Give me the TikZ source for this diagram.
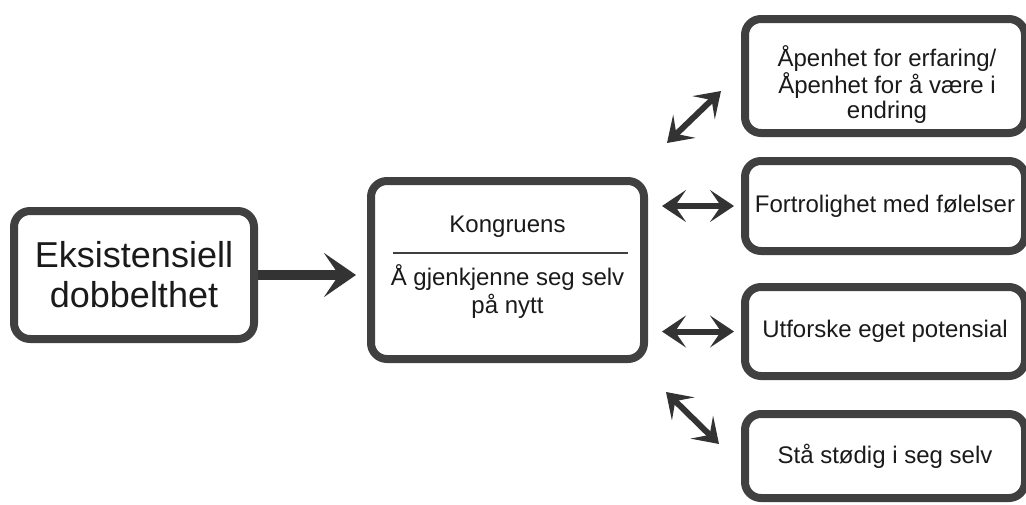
\documentclass[tikz,border=0pt]{standalone}
\usepackage{fontspec}
\setmainfont{Liberation Sans}
\definecolor{dbEdge}{HTML}{404040}
\definecolor{dbArrow}{HTML}{333333}
\definecolor{dbText}{HTML}{1A1A1A}
\usetikzlibrary{calc,arrows.meta}

\tikzset{
  card/.style={draw=dbEdge, line width=8pt, rounded corners=16pt, inner sep=0pt,
    fill=white, align=center, text=dbText},
  cardtext/.style={font=\fontsize{24}{25}\selectfont, text=dbText},
  link/.style={dbArrow, line width=6pt,
    {Stealth[length=24pt,width=32pt,inset=11pt]}-{Stealth[length=24pt,width=32pt,inset=11pt]}},
}

\begin{document}
\begin{tikzpicture}[x=1pt,y=-1pt]
  \useasboundingbox (0,0) rectangle (1026,504);
  \clip (0,0) rectangle (1026,504);
  % left box
  \node[card, minimum width=240pt, minimum height=128pt,
    font=\fontsize{36}{40}\selectfont] (eks) at (134,275) {Eksistensiell\\dobbelthet};
  % centre box
  \node[card, minimum width=273pt, minimum height=178pt] (kong) at (507.5,270) {};
  \node[cardtext, anchor=base] (kongtop) at (507.5,232) {Kongruens};
  \draw[dbEdge, line width=1.2pt] (393,253) -- (628,253);
  \node[cardtext, anchor=base, align=center, font=\fontsize{24}{28}\selectfont]
    (konglow) at (507.5,313) {Å gjenkjenne seg selv\\på nytt};
  % right boxes
  \node[card, minimum width=280pt, minimum height=114pt] (open) at (885,76) {};
  \node[cardtext, anchor=base, align=center] (opentext) at (887,118)
    {Åpenhet for erfaring/\\Åpenhet for å være i\\endring};
  \node[card, cardtext, minimum width=280pt, minimum height=90pt] (fort) at (885,206)
    {Fortrolighet med følelser};
  \node[card, cardtext, minimum width=280pt, minimum height=89pt] (utf) at (885,331.5)
    {Utforske eget potensial};
  \node[card, cardtext, minimum width=280pt, minimum height=84pt] (sta) at (885,456)
    {Stå stødig i seg selv};
  % arrows
  \draw[dbArrow, line width=10pt, -{Stealth[length=32pt,width=44pt,inset=15pt]},
    shorten >=11pt] (eks.east) -- (eks.east -| kong.west);
  \draw[link] ($(kong.north east)+(19,-34)$) -- ($(open.south west)+(-20,-46)$);
  \draw[link, shorten <=14pt, shorten >=7pt] (kong.east |- fort.west) -- (fort.west);
  \draw[link, shorten <=14pt, shorten >=7pt] (kong.east |- utf.west) -- (utf.west);
  \draw[link] ($(kong.south east)+(18,29)$) -- ($(sta.north west)+(-22,34)$);
\end{tikzpicture}
\end{document}
